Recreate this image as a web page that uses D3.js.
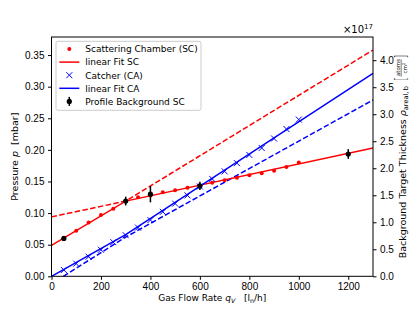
<!DOCTYPE html>
<html>
<head>
<meta charset="utf-8">
<script src="https://cdn.jsdelivr.net/npm/d3@7"></script>
<style>
  body { margin: 0; background: #fff; }
  svg { font-family: "DejaVu Sans", sans-serif; }
  .axis text { font-size: 10px; fill: #000; }
  .axis path, .axis line { stroke: #000; }
</style>
</head>
<body>
<svg id="Vis" width="415" height="311"></svg>
<script>
/*
* DATA
*/

// measured points (flow in l_n/h, pressure in mbar)
const flowSC = [50, 100, 150, 200, 250, 300, 350, 400, 450, 500, 550, 600, 650, 700, 750, 800, 850, 900, 950, 1000];
const pressureSC = [0.060, 0.072, 0.085, 0.097, 0.107, 0.119, 0.125, 0.128, 0.133, 0.136, 0.140, 0.143, 0.148, 0.152, 0.156, 0.160, 0.163, 0.167, 0.173, 0.180];

const flowCA = [50, 100, 150, 200, 250, 300, 350, 400, 450, 500, 550, 600, 650, 700, 750, 800, 850, 900, 950, 1000];
const pressureCA = [0.010, 0.020, 0.031, 0.042, 0.054, 0.065, 0.077, 0.089, 0.102, 0.115, 0.128, 0.142, 0.154, 0.166, 0.179, 0.192, 0.203, 0.218, 0.233, 0.248];

const profileFlow = [50, 300, 400, 600, 1200];
const profilePressure = [0.060, 0.119, 0.130, 0.143, 0.1935];
const profileErr = [0.003, 0.007, 0.013, 0.0065, 0.0077];

// fit lines (break points)
const fitSCFlow = [0, 300, 1300];
const fitSCPressure = [0.049, 0.119, 0.203];
const fitSCDashFlow = [0, 300, 1300];
const fitSCDashPressure = [0.094, 0.119, 0.358];
const fitCAFlow = [0, 300, 1300];
const fitCAPressure = [0.0, 0.066, 0.321];
const fitCADashFlow = [48, 300, 1300];
const fitCADashPressure = [0.0, 0.062, 0.279];

const leftTicks = [0, 0.05, 0.10, 0.15, 0.20, 0.25, 0.30, 0.35];
const rightTicks = [0, 0.5, 1.0, 1.5, 2.0, 2.5, 3.0, 3.5, 4.0];
const xTicks = [0, 200, 400, 600, 800, 1000, 1200];

const legendLabels = ["Scattering Chamber (SC)", "linear Fit SC", "Catcher (CA)", "linear Fit CA", "Profile Background SC"];

/*
* SETUP
*/
const svg = d3.select("svg#Vis");
const m = { left: 51.5, right: 373, top: 37, bottom: 276.3 };

const x = d3.scaleLinear().domain([0, 1300]).range([m.left, m.right]);
const y = d3.scaleLinear().domain([0, 0.3786]).range([m.bottom, m.top]);
// right axis: 1e17 atoms/cm^2 per mbar conversion
const yR = d3.scaleLinear().domain([0, 0.3786 * 11.70]).range([m.bottom, m.top]);

const RED = "#ff0000", BLUE = "#0000ff";

function zip(a, b) { return a.map((v, i) => [v, b[i]]); }

const line = d3.line().x(d => x(d[0])).y(d => y(d[1]));

const plot = svg.append("g");

/* fit lines */
function drawLine(fx, fy, color, dashed) {
  plot.append("path")
    .datum(zip(fx, fy))
    .attr("d", line)
    .attr("fill", "none")
    .attr("stroke", color)
    .attr("stroke-width", 1.5)
    .attr("stroke-dasharray", dashed ? "5.5,2.4" : null);
}
drawLine(fitSCDashFlow, fitSCDashPressure, RED, true);
drawLine(fitCADashFlow, fitCADashPressure, BLUE, true);
drawLine(fitSCFlow, fitSCPressure, RED, false);
drawLine(fitCAFlow, fitCAPressure, BLUE, false);

/* SC points */
plot.selectAll("circle.sc")
  .data(zip(flowSC, pressureSC))
  .join("circle")
  .attr("class", "sc")
  .attr("cx", d => x(d[0]))
  .attr("cy", d => y(d[1]))
  .attr("r", 2)
  .attr("fill", RED);

/* CA crosses */
function cross(sel, s) {
  sel.append("path")
    .attr("d", `M${-s},${-s}L${s},${s}M${-s},${s}L${s},${-s}`)
    .attr("stroke", BLUE)
    .attr("stroke-width", 1)
    .attr("fill", "none");
}
plot.selectAll("g.ca")
  .data(zip(flowCA, pressureCA))
  .join("g")
  .attr("class", "ca")
  .attr("transform", d => translate(x(d[0]), y(d[1])))
  .call(cross, 3);

/* profile with error bars */
const prof = plot.selectAll("g.prof")
  .data(profileFlow.map((f, i) => ({ f: f, p: profilePressure[i], e: profileErr[i] })))
  .join("g")
  .attr("class", "prof");
prof.append("line")
  .attr("x1", d => x(d.f)).attr("x2", d => x(d.f))
  .attr("y1", d => y(d.p - d.e)).attr("y2", d => y(d.p + d.e))
  .attr("stroke", "#000").attr("stroke-width", 1.5);
prof.append("circle")
  .attr("cx", d => x(d.f)).attr("cy", d => y(d.p))
  .attr("r", 2.6).attr("fill", "#000");

/*
* AXES
*/
svg.append("g").attr("class", "axis")
  .attr("transform", translate(0, m.bottom))
  .call(d3.axisBottom(x).tickValues(xTicks).tickFormat(d3.format("d")).tickSizeOuter(0).tickSize(3.5).tickPadding(3));

svg.append("g").attr("class", "axis")
  .attr("transform", translate(m.left, 0))
  .call(d3.axisLeft(y).tickValues(leftTicks).tickFormat(d3.format(".2f")).tickSizeOuter(0).tickSize(3.5).tickPadding(3.5));

svg.append("g").attr("class", "axis")
  .attr("transform", translate(m.right, 0))
  .call(d3.axisRight(yR).tickValues(rightTicks).tickFormat(d3.format(".1f")).tickSizeOuter(0).tickSize(3.5).tickPadding(3.5));

svg.selectAll(".axis .domain").remove();

/* frame */
svg.append("rect")
  .attr("x", m.left).attr("y", m.top)
  .attr("width", m.right - m.left).attr("height", m.bottom - m.top)
  .attr("fill", "none").attr("stroke", "#000").attr("stroke-width", 1);

/* offset text */
const off = svg.append("text")
  .attr("x", m.right).attr("y", 33)
  .attr("text-anchor", "end")
  .style("font-size", "10px");
off.append("tspan").text("\u00d710");
off.append("tspan").attr("dy", -4).style("font-size", "7px").text("17");

/* x label */
const xl = svg.append("text")
  .attr("x", (m.left + m.right) / 2).attr("y", 300.5)
  .attr("text-anchor", "middle")
  .style("font-size", "9px");
xl.append("tspan").text("Gas Flow Rate ");
xl.append("tspan").style("font-style", "italic").text("q");
xl.append("tspan").attr("dy", 2).style("font-size", "6.3px").style("font-style", "italic").text("V");
xl.append("tspan").attr("dy", -2).text("\u00a0\u00a0\u00a0[l");
xl.append("tspan").attr("dy", 2).style("font-size", "6.3px").text("n");
xl.append("tspan").attr("dy", -2).text("/h]");

/* left y label */
const yl = svg.append("text")
  .attr("transform", translate(18, (m.top + m.bottom) / 2) + " rotate(-90)")
  .attr("text-anchor", "middle")
  .style("font-size", "9.5px");
yl.append("tspan").text("Pressure ");
yl.append("tspan").style("font-style", "italic").text("p");
yl.append("tspan").text("\u00a0\u00a0[mbar]");

/* right y label */
const ry = svg.append("g");
const ryText = ry.append("text").style("font-size", "9.5px").attr("y", 0);
ryText.append("tspan").text("Background Target Thickness ");
ryText.append("tspan").style("font-style", "italic").text("\u03c1");
ryText.append("tspan").attr("dy", 2).style("font-size", "6.6px").text("areal,\u2009b");
const w0 = ryText.node().getBBox().width;
const fx = w0 + 5;
const frac = ry.append("g").attr("transform", translate(fx, -4));
frac.append("text").attr("x", 0).attr("y", 2.5).attr("transform", "scale(1,1.6)")
  .style("font-size", "10px").style("font-weight", "200").text("[");
frac.append("text").attr("x", 5).attr("y", -2.5).style("font-size", "5.5px").text("atoms");
frac.append("line").attr("x1", 4.5).attr("x2", 21.5).attr("y1", -0.8).attr("y2", -0.8).attr("stroke", "#000").attr("stroke-width", 0.5);
const cm = frac.append("text").attr("x", 7.5).attr("y", 5).style("font-size", "5.5px");
cm.append("tspan").text("cm");
cm.append("tspan").attr("dy", -2).style("font-size", "4px").text("2");
frac.append("text").attr("x", 22.5).attr("y", 2.5).attr("transform", "scale(1,1.6)")
  .style("font-size", "10px").style("font-weight", "200").text("]");
const totalW = fx + 26;
ry.attr("transform", translate(406, (m.top + m.bottom) / 2) + " rotate(-90) " + translate(-totalW / 2, 0));

/*
* LEGEND
*/
const lg = svg.append("g").attr("transform", translate(56, 41.3));
lg.append("rect")
  .attr("width", 145).attr("height", 69)
  .attr("rx", 2)
  .attr("fill", "#fff").attr("fill-opacity", 0.8)
  .attr("stroke", "#ccc").attr("stroke-width", 1);

const rows = legendLabels.map((t, i) => ({ t: t, y: 7.7 + i * 13.1 }));
const item = lg.selectAll("g.item").data(rows).join("g")
  .attr("class", "item")
  .attr("transform", d => translate(0, d.y));
item.append("text")
  .attr("x", 29.3).attr("y", 3.3)
  .style("font-size", "9px")
  .text(d => d.t);

item.each(function(d, i) {
  const s = d3.select(this);
  if (i === 0) {
    s.append("circle").attr("cx", 13.3).attr("cy", 0).attr("r", 2).attr("fill", RED);
  } else if (i === 1 || i === 3) {
    s.append("line").attr("x1", 3.3).attr("x2", 23.3).attr("y1", 0).attr("y2", 0)
      .attr("stroke", i === 1 ? RED : BLUE).attr("stroke-width", 1.5);
  } else if (i === 2) {
    s.append("g").attr("transform", translate(13.3, 0)).call(cross, 3);
  } else {
    s.append("line").attr("x1", 13.3).attr("x2", 13.3).attr("y1", -4.5).attr("y2", 4.5)
      .attr("stroke", "#000").attr("stroke-width", 1.5);
    s.append("circle").attr("cx", 13.3).attr("cy", 0).attr("r", 2.6).attr("fill", "#000");
  }
});

/*
* HELPER FUNCTIONS
*/
function translate(x, y) {
  return 'translate(' + String(x) + ',' + String(y) + ')';
}
</script>
</body>
</html>
